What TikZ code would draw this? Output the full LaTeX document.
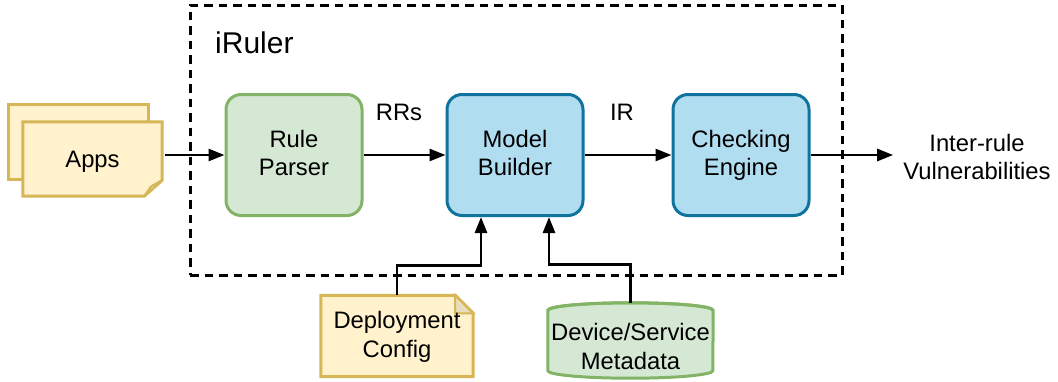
\documentclass[tikz,border=0pt]{standalone}
\usepackage{fontspec}
\setmainfont{Liberation Sans}
\usetikzlibrary{arrows.meta,calc}
\definecolor{gfill}{HTML}{D5E8D4}
\definecolor{gline}{HTML}{82B366}
\definecolor{bfill}{HTML}{B1DDF0}
\definecolor{bline}{HTML}{10739E}
\definecolor{yfill}{HTML}{FFF2CC}
\definecolor{yline}{HTML}{D6B656}
\definecolor{yfold}{HTML}{E8DDBC}
\tikzset{
  txt/.style={font=\fontsize{23.8}{28.5}\selectfont, align=center, inner sep=0pt},
  greenbox/.style={txt, draw=gline, fill=gfill, line width=3pt, rounded corners=15pt,
                   minimum width=136pt, minimum height=121pt, text depth=4pt},
  bluebox/.style={greenbox, draw=bline, fill=bfill},
  holder/.style={txt},
  notefill/.style={draw=yline, fill=yfill, line width=3pt, line join=miter},
  arr/.style={line width=2.7pt, -{Triangle[length=16pt,width=12pt]}},
  frame/.style={draw, line width=3pt, dash pattern=on 8.5pt off 6pt,
                minimum width=652pt, minimum height=270pt, inner sep=0pt}
}
\begin{document}
\begin{tikzpicture}[x=1pt,y=-1pt]
\useasboundingbox (0,0) rectangle (1058,381);

% outer system boundary
\node[frame] (iruler) at (516,140) {};
\node[txt, font=\fontsize{30}{36}\selectfont, anchor=base west] (title) at (215,53) {iRuler};

% processing stages
\node[greenbox] (rp) at (294,155) {Rule\\Parser};
\node[bluebox]  (mb) at (515,155) {Model\\Builder};
\node[bluebox]  (ce) at (741,155) {Checking\\Engine};

% input documents (Apps): two stacked sheets
\node[holder, minimum width=139pt, minimum height=74pt] (apps) at (92.5,159) {};
\path[notefill]
  ($(apps.north west)+(-14,-17)$) -- ($(apps.north east)+(-14,-17)$) --
  ($(apps.south east)+(-14,-17)$) -- ($(apps.south west)+(-14,-17)$) -- cycle;
\path[notefill]
  (apps.north west) -- (apps.north east) -- ($(apps.south east)+(0,-16)$) --
  ($(apps.south east)+(-18,0)$) -- (apps.south west) -- cycle;
\path[draw=yline, fill=white, line width=2pt, line join=round]
  ($(apps.south east)+(0,-16)$) -- ($(apps.south east)+(-18,0)$) --
  ($(apps.south east)+(-11,-10)$) -- cycle;
\node[txt] at ($(apps.center)+(0,3)$) {Apps};

% deployment configuration note
\node[holder, minimum width=152pt, minimum height=81pt] (dep) at (397,336) {};
\path[notefill]
  (dep.north west) -- ($(dep.north east)+(-18,0)$) -- ($(dep.north east)+(0,18)$) --
  (dep.south east) -- (dep.south west) -- cycle;
\path[draw=yline, fill=yfold, line width=2pt, line join=miter]
  ($(dep.north east)+(-18,0)$) -- ($(dep.north east)+(-18,18)$) --
  ($(dep.north east)+(0,18)$) -- cycle;
\node[txt] at ($(dep.center)+(0,1)$) {Deployment\\Config};

% metadata store drawn as a cylinder
\node[holder, minimum width=165pt, minimum height=75pt] (meta) at (630.5,340.5) {};
\path[draw=gline, fill=gfill, line width=3pt]
  ($(meta.north west)+(0,7.5)$) -- ($(meta.south west)+(0,-7.5)$)
  arc[start angle=180, end angle=360, x radius=82.5, y radius=-7.5]
  -- ($(meta.north east)+(0,7.5)$)
  arc[start angle=0, end angle=180, x radius=82.5, y radius=-7.5] -- cycle;
\path[draw=gline, line width=3pt]
  ($(meta.north west)+(0,7.5)$)
  arc[start angle=180, end angle=360, x radius=82.5, y radius=7.5];
\node[txt] at ($(meta.center)+(0,6)$) {Device/Service\\Metadata};

% output label
\node[txt] (vuln) at (977,157) {Inter-rule\\Vulnerabilities};

% edge labels
\node[txt] (rrs) at (399,112) {RRs};
\node[txt] (ir)  at (622,112) {IR};

% data flow
\coordinate (mbin1) at ($(mb.south)+(-34,0)$);
\coordinate (mbin2) at ($(mb.south)+(34,0)$);
\draw[arr] ($(apps.east)+(3,-4)$) -- (rp.west);
\draw[arr] (rp.east) -- (mb.west);
\draw[arr] (mb.east) -- (ce.west);
\draw[arr, shorten >=10pt] (ce.east) -- (vuln.west |- ce.east);
\draw[arr] (dep.north) -- ++(0,-30) -| (mbin1);
\draw[arr] (meta.north) -- ++(0,-38) -| (mbin2);
\end{tikzpicture}
\end{document}
